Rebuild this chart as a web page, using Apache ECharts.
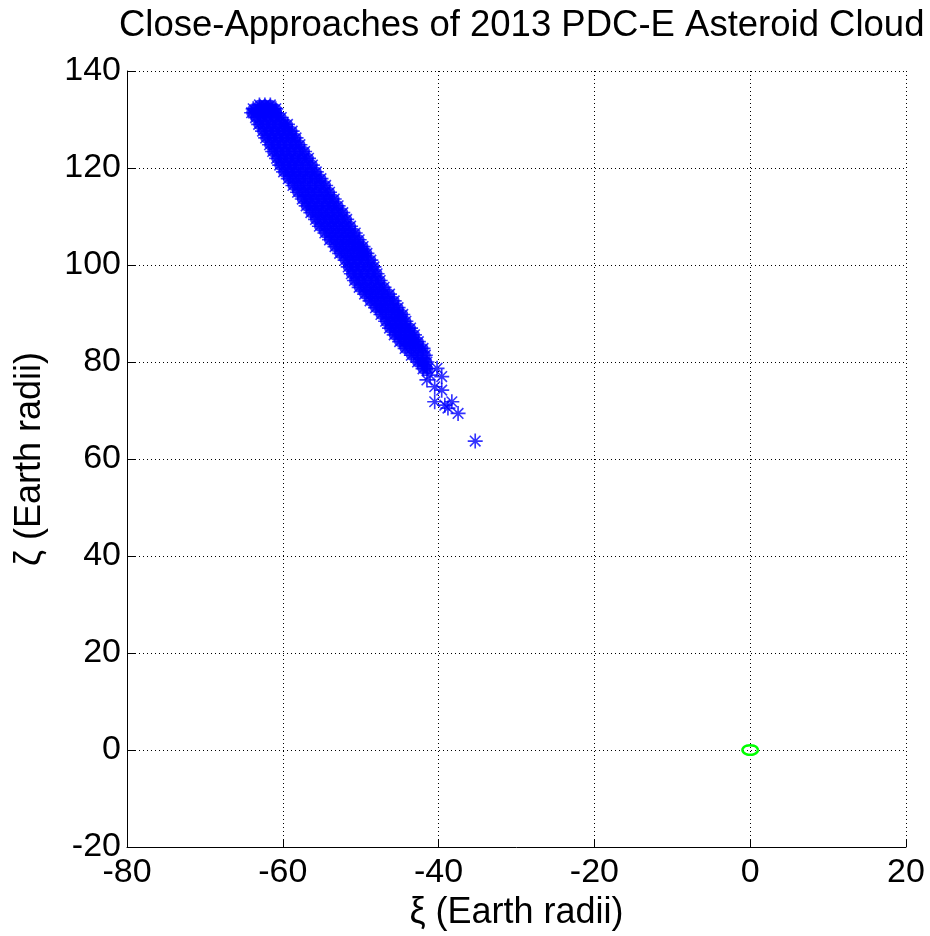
<!DOCTYPE html>
<html>
<head>
<meta charset="utf-8">
<script src="https://cdn.jsdelivr.net/npm/echarts@6/dist/echarts.min.js"></script>
<style>
  html, body { margin: 0; padding: 0; background: #fff; }
  #main { width: 930px; height: 936px; }
</style>
</head>
<body>
<div id="main"></div>
<script>
// rows of the asteroid cloud: one y per row, x positions along it
var cloudRowY = [133.0, 132.2, 131.4, 130.4, 129.0, 127.6, 126.2, 124.8, 123.4, 122.0, 120.6,
    119.2, 117.8, 116.4, 115.0, 113.6, 112.2, 110.8, 109.4, 108.0, 106.6,
    105.2, 103.8, 102.4, 101.0, 99.6, 98.2, 96.8, 95.4, 94.0, 92.6,
    91.2, 89.8, 88.4, 87.0, 85.6, 84.2, 82.8, 81.4, 80.0, 78.6];
var cloudRowX = [
    [-63.0, -62.3, -61.6],
    [-63.8, -63.0, -62.2, -61.4, -60.9],
    [-64.0, -63.2, -62.4, -61.6, -60.8],
    [-63.5, -62.7, -61.9, -61.0, -60.2],
    [-63.1, -62.3, -61.5, -60.7, -59.9, -59.4],
    [-62.6, -61.8, -61.0, -60.2, -59.4, -58.8],
    [-62.2, -61.4, -60.6, -59.8, -59.0, -58.3],
    [-61.7, -60.9, -60.1, -59.3, -58.5, -57.8],
    [-61.3, -60.5, -59.7, -58.9, -58.0, -57.2],
    [-60.8, -60.0, -59.2, -58.4, -57.5, -56.7],
    [-60.4, -59.6, -58.8, -58.0, -57.1, -56.2],
    [-59.9, -59.1, -58.3, -57.4, -56.5, -55.7],
    [-59.3, -58.5, -57.7, -56.8, -55.9, -55.1],
    [-58.7, -57.9, -57.1, -56.2, -55.3, -54.5],
    [-58.1, -57.3, -56.5, -55.7, -54.8, -54.0],
    [-57.5, -56.7, -55.9, -55.0, -54.2, -53.4],
    [-57.0, -56.2, -55.4, -54.5, -53.7, -52.9],
    [-56.4, -55.6, -54.8, -54.0, -53.1, -52.3],
    [-55.8, -55.0, -54.2, -53.4, -52.6, -51.8],
    [-55.3, -54.5, -53.7, -52.9, -52.1, -51.3],
    [-54.6, -53.8, -53.0, -52.2, -51.4, -50.7],
    [-54.0, -53.2, -52.4, -51.6, -50.9, -50.2],
    [-53.3, -52.5, -51.7, -50.9, -50.2, -49.7],
    [-52.7, -51.9, -51.1, -50.3, -49.6, -49.2],
    [-52.0, -51.2, -50.4, -49.6, -48.7],
    [-51.6, -50.8, -50.0, -49.1, -48.3],
    [-51.2, -50.4, -49.6, -48.7, -47.9],
    [-50.8, -50.0, -49.2, -48.3, -47.5],
    [-50.2, -49.4, -48.6, -47.8, -47.0],
    [-49.5, -48.7, -47.9, -47.1, -46.3],
    [-48.8, -48.0, -47.2, -46.5, -45.7],
    [-48.1, -47.4, -46.7, -45.9, -45.2],
    [-47.4, -46.6, -45.8, -45.1, -44.6],
    [-46.8, -46.1, -45.4, -44.8, -44.2],
    [-46.3, -45.6, -44.9, -44.2, -43.6],
    [-45.7, -45.0, -44.3, -43.7, -43.1],
    [-45.0, -44.3, -43.6, -43.1, -42.6],
    [-44.3, -43.5, -42.7, -42.0],
    [-43.5, -42.6, -41.7],
    [-42.7, -42.1, -41.5],
    [-42.0, -41.4]
];
// the stray points below the cloud
var strayX = [-40.2, -41.1, -39.6, -41.5, -40.5, -39.6, -40.5, -39.2, -38.3, -38.8, -37.5, -35.3];
var strayY = [78.7, 77.3, 77.0, 76.3, 74.9, 74.2, 71.8, 71.1, 71.8, 70.5, 69.4, 63.7];
// Earth, radius 1
var earthX = [1, 0.866, 0.5, 0, -0.5, -0.866, -1, -0.866, -0.5, 0, 0.5, 0.866, 1];
var earthY = [0, 0.5, 0.866, 1, 0.866, 0.5, 0, -0.5, -0.866, -1, -0.866, -0.5, 0];

var core = [];
cloudRowY.forEach(function(y, i) {
    cloudRowX[i].forEach(function(x) { core.push([x, y]); });
});
var cloud = core.slice();
strayX.forEach(function(x, i) { cloud.push([x, strayY[i]]); });
var earth = earthX.map(function(x, i) { return [x, earthY[i]]; });

// MATLAB style '*' marker
var star = 'path://M8.9 0H11.1V20H8.9Z M0 8.9H20V11.1H0Z M2.2 3.7L3.7 2.2L17.8 16.3L16.3 17.8Z M16.3 2.2L17.8 3.7L3.7 17.8L2.2 16.3Z';
var font = "'Liberation Sans', Arial, Helvetica, sans-serif";

var myChart = echarts.init(document.getElementById('main'));

var gridLine = { show: true, lineStyle: { color: '#000', width: 1, type: [1, 3] } };

option = {
    backgroundColor: '#fff',
    animation: false,
    title: {
        text: 'Close-Approaches of 2013 PDC-E Asteroid Cloud',
        left: 114,
        top: 2,
        textStyle: { fontFamily: font, fontSize: 36.5, fontWeight: 'normal', color: '#000' }
    },
    grid: { left: 127, right: 24, top: 71, bottom: 89 },
    xAxis: {
        type: 'value',
        min: -80, max: 20, interval: 20,
        name: 'ξ (Earth radii)',
        nameLocation: 'middle',
        nameGap: 41,
        nameTextStyle: { fontFamily: font, fontSize: 36, color: '#000' },
        axisLine: { onZero: false, lineStyle: { color: '#000', width: 1 } },
        axisTick: { inside: true, length: 8, lineStyle: { color: '#000' } },
        axisLabel: { fontFamily: font, fontSize: 34, color: '#000', margin: 9, showMinLabel: true, showMaxLabel: true },
        splitLine: gridLine
    },
    yAxis: {
        type: 'value',
        min: -20, max: 140, interval: 20,
        name: 'ζ (Earth radii)',
        nameLocation: 'middle',
        nameGap: 79,
        nameTextStyle: { fontFamily: font, fontSize: 36, color: '#000' },
        axisLine: { onZero: false, lineStyle: { color: '#000', width: 1 } },
        axisTick: { inside: true, length: 8, lineStyle: { color: '#000' } },
        axisLabel: { fontFamily: font, fontSize: 34, color: '#000', margin: 6, showMinLabel: true, showMaxLabel: true },
        splitLine: gridLine
    },
    series: [{
        name: 'core',
        type: 'scatter',
        data: core,
        symbol: 'circle',
        symbolSize: 11,
        itemStyle: { color: '#0000ff' },
        z: 3
    }, {
        name: 'cloud',
        type: 'scatter',
        data: cloud,
        symbol: star,
        symbolSize: 15,
        itemStyle: { color: '#0000ff' },
        z: 4
    }, {
        name: 'Earth',
        type: 'line',
        data: earth,
        smooth: true,
        showSymbol: false,
        lineStyle: { color: '#00ff00', width: 2.5 }
    }]
};
myChart.setOption(option);
</script>
</body>
</html>
